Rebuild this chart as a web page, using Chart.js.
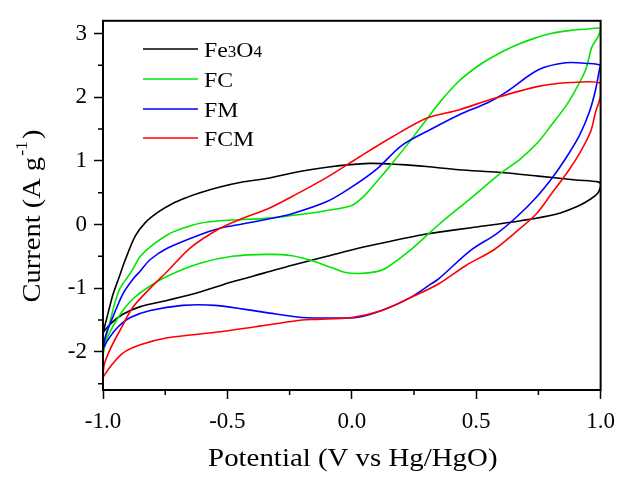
<!DOCTYPE html>
<html>
<head>
<meta charset="utf-8">
<script src="https://cdn.jsdelivr.net/npm/chart.js@4"></script>
<style>
html,body{margin:0;padding:0;background:#fff;}
#wrap{width:624px;height:478px;position:relative;}
</style>
</head>
<body>
<div id="wrap"><canvas id="c" width="624" height="478"></canvas></div>
<script>
// ---- data (Potential V vs Hg/HgO, Current A g^-1) ----
const seriesLabels = ['Fe3O4', 'FC', 'FM', 'FCM'];
const seriesColors = ['#000000', '#00e600', '#0000ff', '#ff0000'];

const fe3o4X = [-1.0,-0.99,-0.975,-0.96,-0.94,-0.91,-0.87,-0.83,-0.78,-0.72,-0.66,-0.61,-0.53,-0.45,-0.4,-0.33,-0.24,-0.1,0.07,0.2,0.3,0.43,0.59,0.75,0.9,0.99,1.0,
  1.0,0.99,0.96,0.91,0.82,0.68,0.48,0.35,0.3,0.16,0.03,-0.1,-0.24,-0.35,-0.48,-0.61,-0.74,-0.85,-0.92,-0.97,-1.0];
const fe3o4Y = [-1.70,-1.55,-1.32,-1.10,-0.88,-0.55,-0.18,0.03,0.19,0.33,0.43,0.50,0.59,0.66,0.69,0.73,0.81,0.90,0.96,0.94,0.91,0.86,0.82,0.76,0.70,0.67,0.64,
  0.60,0.50,0.40,0.29,0.16,0.06,-0.05,-0.12,-0.15,-0.26,-0.37,-0.50,-0.64,-0.76,-0.90,-1.06,-1.19,-1.29,-1.41,-1.56,-1.70];

const fcX = [-1.0,-0.99,-0.97,-0.95,-0.93,-0.9,-0.88,-0.85,-0.81,-0.74,-0.68,-0.61,-0.53,-0.48,-0.33,-0.2,-0.1,0.0,0.05,0.1,0.16,0.23,0.3,0.36,0.43,0.5,0.56,0.65,0.73,0.8,0.88,0.95,1.0,
  0.99,0.965,0.94,0.9,0.86,0.8,0.75,0.68,0.59,0.48,0.35,0.31,0.23,0.14,0.1,0.03,-0.03,-0.08,-0.16,-0.24,-0.34,-0.48,-0.61,-0.74,-0.82,-0.88,-0.92,-0.96,-0.985,-1.0];
const fcY = [-2.05,-1.80,-1.50,-1.20,-0.99,-0.82,-0.70,-0.50,-0.35,-0.16,-0.06,0.02,0.06,0.07,0.10,0.16,0.22,0.30,0.45,0.67,0.95,1.29,1.65,1.95,2.25,2.47,2.62,2.80,2.92,3.00,3.05,3.07,3.08,
  2.95,2.79,2.43,2.12,1.86,1.55,1.30,1.04,0.78,0.42,0.0,-0.14,-0.42,-0.68,-0.74,-0.77,-0.75,-0.68,-0.57,-0.49,-0.47,-0.50,-0.61,-0.81,-0.99,-1.17,-1.35,-1.60,-1.80,-2.05];

const fmX = [-1.0,-0.99,-0.96,-0.92,-0.88,-0.85,-0.81,-0.74,-0.61,-0.53,-0.48,-0.33,-0.24,-0.1,0.0,0.1,0.2,0.32,0.43,0.55,0.62,0.75,0.86,0.95,1.0,
  0.995,0.98,0.955,0.915,0.86,0.805,0.74,0.66,0.58,0.48,0.35,0.32,0.23,0.12,0.02,-0.08,-0.2,-0.35,-0.55,-0.68,-0.81,-0.89,-0.94,-0.98,-1.0];
const fmY = [-1.95,-1.75,-1.45,-1.09,-0.86,-0.73,-0.55,-0.37,-0.16,-0.06,-0.02,0.09,0.17,0.36,0.59,0.87,1.24,1.50,1.72,1.92,2.08,2.43,2.54,2.53,2.50,
  2.43,2.12,1.77,1.40,1.04,0.73,0.42,0.11,-0.15,-0.40,-0.85,-0.93,-1.16,-1.35,-1.46,-1.47,-1.46,-1.38,-1.27,-1.27,-1.35,-1.46,-1.61,-1.81,-1.95];

const fcmX = [-1.0,-0.995,-0.97,-0.93,-0.88,-0.81,-0.74,-0.65,-0.53,-0.45,-0.33,-0.24,-0.1,0.03,0.16,0.3,0.43,0.57,0.75,0.88,1.0,
  1.0,0.98,0.96,0.92,0.87,0.8,0.74,0.65,0.57,0.46,0.35,0.23,0.12,0.0,-0.14,-0.2,-0.34,-0.54,-0.74,-0.85,-0.92,-0.97,-1.0];
const fcmY = [-2.40,-2.20,-1.95,-1.65,-1.30,-1.00,-0.73,-0.37,-0.06,0.08,0.26,0.44,0.74,1.06,1.37,1.67,1.80,1.98,2.17,2.23,2.22,
  2.02,1.77,1.46,1.15,0.84,0.47,0.16,-0.15,-0.40,-0.64,-0.93,-1.16,-1.35,-1.46,-1.49,-1.50,-1.58,-1.69,-1.78,-1.89,-2.02,-2.23,-2.40];

const xTicks = [-1.0, -0.5, 0.0, 0.5, 1.0];
const xMinorTicks = [-0.75, -0.25, 0.25, 0.75];
const yTicks = [-2, -1, 0, 1, 2, 3];
const yMinorTicks = [-2.5, -1.5, -0.5, 0.5, 1.5, 2.5];
const xTitle = 'Potential (V vs Hg/HgO)';
const yTitleMain = 'Current (A g';
const yTitleSup = '-1';

const seriesX = [fe3o4X, fcX, fmX, fcmX];
const seriesY = [fe3o4Y, fcY, fmY, fcmY];

const SERIF = '"Liberation Serif", "Times New Roman", serif';

const datasets = seriesLabels.map((lab, i) => ({
  label: lab,
  data: seriesX[i].map((x, k) => ({x: x, y: seriesY[i][k]})),
  showLine: true,
  borderColor: seriesColors[i],
  backgroundColor: seriesColors[i],
  borderWidth: 1.6,
  pointRadius: 0,
  tension: 0.3,
  fill: false,
  order: seriesLabels.length - i
}));

// draw label with digits as subscripts
function drawChem(ctx, text, x, y, size) {
  let cx = x;
  for (const ch of text) {
    if (/[0-9]/.test(ch)) {
      ctx.font = (size * 0.72) + 'px ' + SERIF;
      ctx.fillText(ch, cx, y + size * 0.04);
      cx += ctx.measureText(ch).width;
    } else {
      ctx.font = size + 'px ' + SERIF;
      ctx.fillText(ch, cx, y);
      cx += ctx.measureText(ch).width;
    }
  }
}

const decor = {
  id: 'decor',
  afterDraw(chart) {
    const ctx = chart.ctx, ca = chart.chartArea;
    const xs = chart.scales.x, ys = chart.scales.y;
    ctx.save();
    ctx.strokeStyle = '#000';
    ctx.lineWidth = 2;
    ctx.strokeRect(ca.left, ca.top, ca.right - ca.left, ca.bottom - ca.top);
    ctx.lineWidth = 1.5;
    ctx.beginPath();
    xMinorTicks.forEach(v => {
      const px = xs.getPixelForValue(v);
      ctx.moveTo(px, ca.bottom); ctx.lineTo(px, ca.bottom + 5);
    });
    yMinorTicks.forEach(v => {
      const py = ys.getPixelForValue(v);
      ctx.moveTo(ca.left - 5, py); ctx.lineTo(ca.left, py);
    });
    ctx.stroke();

    // legend
    const lx0 = ca.left + 40, lx1 = ca.left + 95, tx = ca.left + 101;
    const rowY = [49, 79, 109, 138];
    ctx.fillStyle = '#000';
    ctx.textBaseline = 'alphabetic';
    ctx.textAlign = 'left';
    chart.data.datasets.forEach((ds, i) => {
      const y = rowY[i];
      ctx.strokeStyle = ds.borderColor;
      ctx.lineWidth = 1.6;
      ctx.beginPath(); ctx.moveTo(lx0, y); ctx.lineTo(lx1, y); ctx.stroke();
      ctx.fillStyle = '#000';
      ctx.save();
      ctx.translate(tx, y + 7.5);
      ctx.scale(1.08, 1);
      drawChem(ctx, ds.label, 0, 0, 22);
      ctx.restore();
    });

    // x title
    ctx.save();
    ctx.translate((ca.left + ca.right) / 2 + 1, 459);
    ctx.scale(1.11, 1);
    ctx.font = '26px ' + SERIF;
    ctx.textAlign = 'center';
    ctx.textBaseline = 'middle';
    ctx.fillText(xTitle, 0, 0);
    ctx.restore();

    // y title with superscript
    ctx.save();
    ctx.translate(33, 216);
    ctx.rotate(-Math.PI / 2);
    ctx.scale(1.095, 1);
    ctx.textAlign = 'left';
    ctx.textBaseline = 'middle';
    ctx.font = '26px ' + SERIF;
    const wMain = ctx.measureText(yTitleMain).width;
    ctx.font = '16px ' + SERIF;
    const wSup = ctx.measureText(yTitleSup).width;
    ctx.font = '26px ' + SERIF;
    const wClose = ctx.measureText(')').width;
    const total = wMain + wSup + 3 + wClose;
    let cx = -total / 2;
    ctx.fillText(yTitleMain, cx, 0); cx += wMain + 1;
    ctx.font = '16px ' + SERIF;
    ctx.fillText(yTitleSup, cx, -10); cx += wSup + 2;
    ctx.font = '26px ' + SERIF;
    ctx.fillText(')', cx, 0);
    ctx.restore();
    ctx.restore();
  }
};

new Chart(document.getElementById('c'), {
  type: 'scatter',
  data: { datasets: datasets },
  options: {
    responsive: false,
    animation: false,
    devicePixelRatio: 1,
    layout: { padding: { left: 0, top: 16, right: 22, bottom: 0 } },
    plugins: { legend: { display: false }, tooltip: { enabled: false } },
    scales: {
      x: {
        type: 'linear', min: -1, max: 1,
        afterBuildTicks: s => { s.ticks = xTicks.map(v => ({ value: v })); },
        afterFit: s => { s.height = 88; },
        ticks: {
          autoSkip: false, maxRotation: 0, padding: 9, color: '#000',
          font: { family: SERIF, size: 23 },
          callback: v => Number(v).toFixed(1)
        },
        grid: { drawOnChartArea: false, drawTicks: true, tickLength: 9, tickColor: '#000', tickWidth: 1.5 },
        border: { display: true, color: '#000', width: 2 }
      },
      y: {
        type: 'linear', min: -2.6, max: 3.2,
        afterBuildTicks: s => { s.ticks = yTicks.map(v => ({ value: v })); },
        afterFit: s => { s.width = 103; },
        ticks: {
          autoSkip: false, padding: 7, color: '#000',
          font: { family: SERIF, size: 23 },
          callback: v => String(v)
        },
        grid: { drawOnChartArea: false, drawTicks: true, tickLength: 9, tickColor: '#000', tickWidth: 1.5 },
        border: { display: true, color: '#000', width: 2 }
      }
    }
  },
  plugins: [decor]
});
</script>
</body>
</html>
